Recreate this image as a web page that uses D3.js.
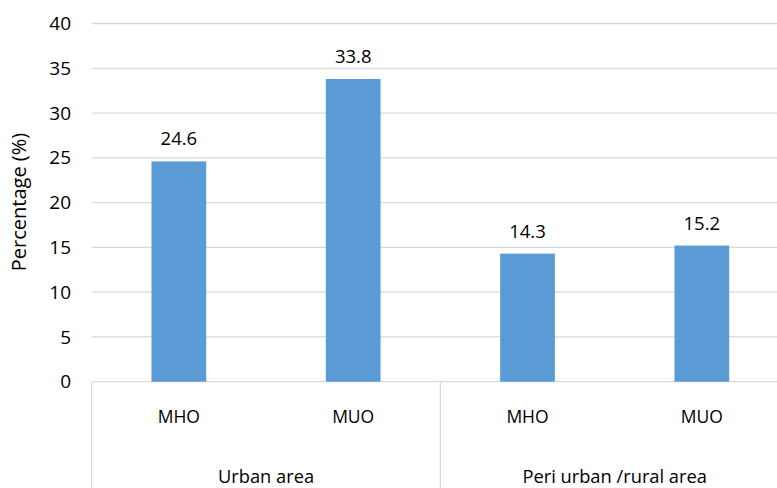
<!DOCTYPE html>
<html>
<head>
<meta charset="utf-8">
<script src="https://cdn.jsdelivr.net/npm/d3@7"></script>
<style>
  body { margin: 0; background: #fff; }
  text { font-family: "Open Sans", Lato, sans-serif; fill: #000; }
</style>
</head>
<body>
<div id="chart"></div>
<script>
// dati
const groups = ["Urban area", "Peri urban /rural area"];
const categories = ["MHO", "MUO", "MHO", "MUO"];
const values = [24.6, 33.8, 14.3, 15.2];
const yTicks = [0, 5, 10, 15, 20, 25, 30, 35, 40];

const W = 777, H = 488;
const margin = {left: 91.7, right: 789, top: 23.5, bottom: 381.7};

const svg = d3.select("#chart").append("svg")
  .attr("width", W).attr("height", H);

const keys = values.map((d, i) => i);

const x = d3.scaleBand()
  .domain(keys)
  .range([margin.left, margin.right])
  .paddingInner(0.686)
  .paddingOuter(0.343);

const y = d3.scaleLinear().domain([0, 40]).range([margin.bottom, margin.top]);

// griglia
svg.append("g")
  .selectAll("line")
  .data(yTicks)
  .join("line")
  .attr("x1", margin.left).attr("x2", margin.right)
  .attr("y1", d => y(d)).attr("y2", d => y(d))
  .attr("stroke", "#d9d9d9").attr("stroke-width", 1.3);

// etichette asse y
svg.append("g")
  .selectAll("text")
  .data(yTicks)
  .join("text")
  .attr("x", 71).attr("y", d => y(d))
  .attr("dy", "0.35em")
  .attr("text-anchor", "end")
  .style("font-size", "19px")
  .text(d => d);

// separatori delle categorie
const step = x.step();
const sepX = [margin.left, margin.left + 2 * step, margin.right];
svg.append("g")
  .selectAll("line")
  .data(sepX)
  .join("line")
  .attr("x1", d => d).attr("x2", d => d)
  .attr("y1", margin.bottom).attr("y2", H)
  .attr("stroke", "#d9d9d9").attr("stroke-width", 1.3);

// barre
svg.append("g")
  .selectAll("rect")
  .data(keys)
  .join("rect")
  .attr("x", d => x(d))
  .attr("y", d => y(values[d]))
  .attr("width", x.bandwidth())
  .attr("height", d => y(0) - y(values[d]))
  .attr("fill", "#5b9bd5");

// valori sopra le barre
svg.append("g")
  .selectAll("text")
  .data(keys)
  .join("text")
  .attr("x", d => x(d) + x.bandwidth() / 2)
  .attr("y", d => y(values[d]) - 16)
  .attr("text-anchor", "middle")
  .style("font-size", "18.5px")
  .text(d => values[d]);

// etichette categorie
svg.append("g")
  .selectAll("text")
  .data(keys)
  .join("text")
  .attr("x", d => x(d) + x.bandwidth() / 2)
  .attr("y", 417)
  .attr("dy", "0.35em")
  .attr("text-anchor", "middle")
  .style("font-size", "17.5px")
  .text(d => categories[d]);

// etichette gruppi
svg.append("g")
  .selectAll("text")
  .data(groups)
  .join("text")
  .attr("x", (d, i) => margin.left + step * (2 * i + 1))
  .attr("y", 477)
  .attr("dy", "0.35em")
  .attr("text-anchor", "middle")
  .style("font-size", "18.3px")
  .text(d => d);

// titolo asse y
svg.append("text")
  .attr("transform", `translate(18.5, 202) rotate(-90)`)
  .attr("dy", "0.35em")
  .attr("text-anchor", "middle")
  .style("font-size", "20px")
  .text("Percentage (%)");
</script>
</body>
</html>
